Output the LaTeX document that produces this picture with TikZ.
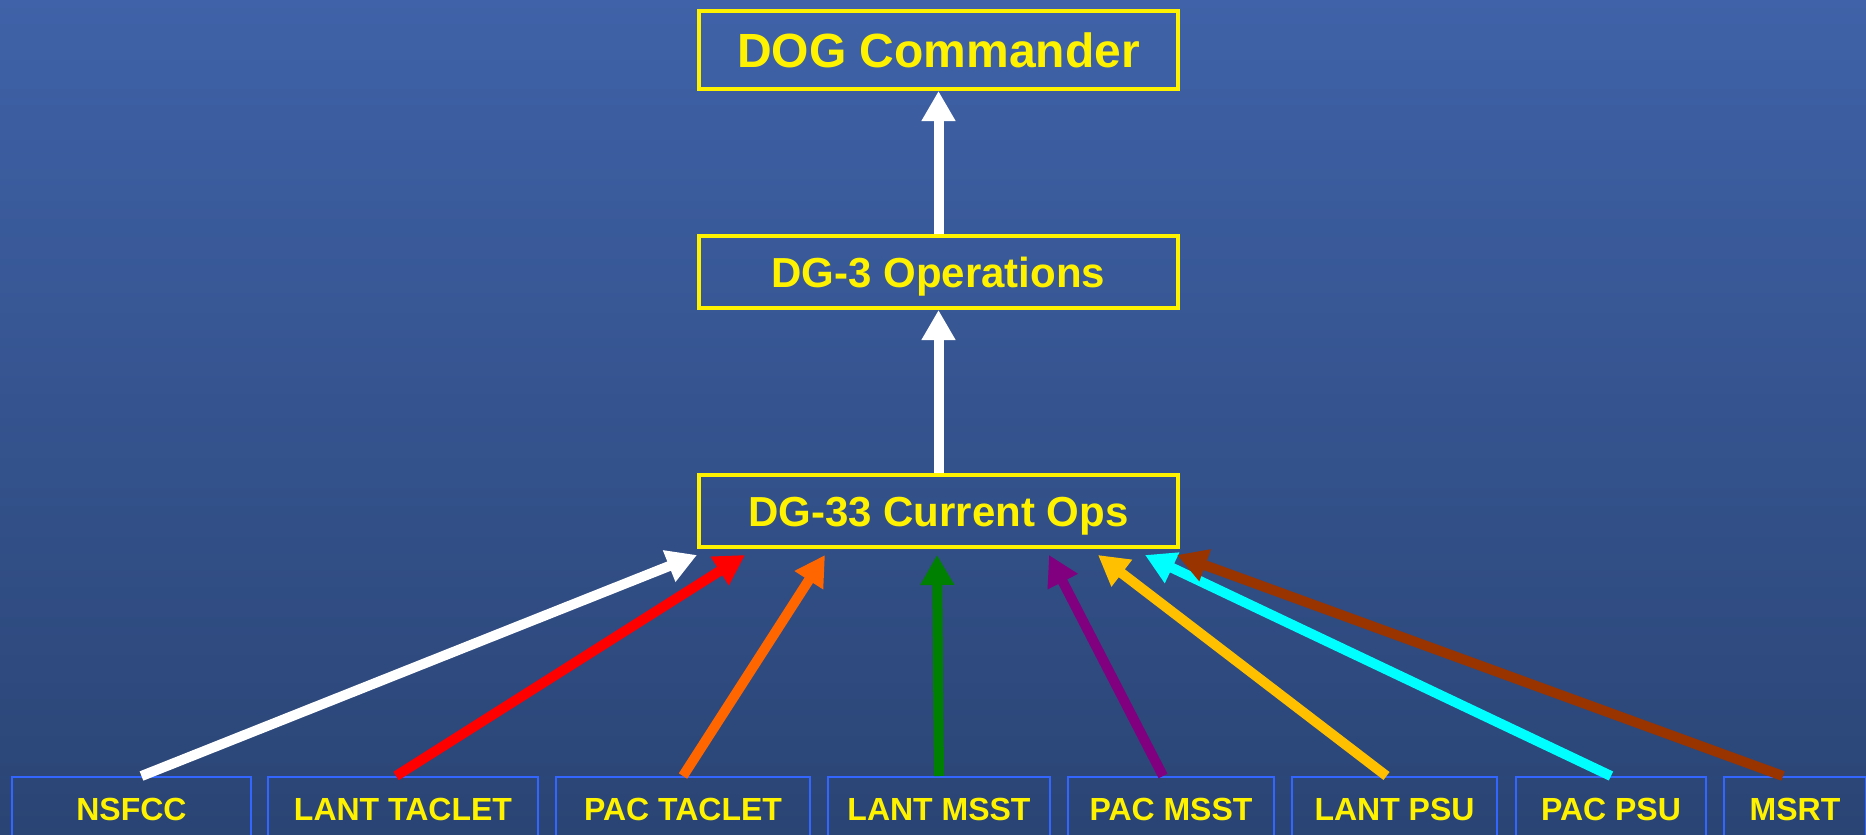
\documentclass[tikz,border=0pt]{standalone}
\usepackage{fontspec}
\setmainfont{Liberation Sans}
\usetikzlibrary{calc,arrows.meta}

\definecolor{bgtop}{HTML}{3F62A8}
\definecolor{bgbot}{HTML}{2A4474}
\definecolor{unitblue}{HTML}{3366FF}
\definecolor{taclet}{HTML}{FF6600}
\definecolor{msst}{HTML}{008000}
\definecolor{pacmsst}{HTML}{800080}
\definecolor{psu}{HTML}{FFC000}
\definecolor{pacpsu}{HTML}{00FFFF}
\definecolor{msrt}{HTML}{993300}

\begin{document}
\begin{tikzpicture}[x=1pt, y=-1pt,
	cmdbox/.style={draw=yellow, line width=4pt, minimum width=479, minimum height=72, inner sep=0pt,
		text=yellow, text height=30pt, text depth=0pt, font=\bfseries\fontsize{42}{50}\selectfont},
	unitbox/.style={draw=unitblue, line width=2pt, minimum height=64, inner sep=0pt,
		text=yellow, text height=23pt, text depth=0pt, font=\bfseries\fontsize{32}{38}\selectfont},
	feed/.style={line width=10pt, -{Triangle[width=32pt, length=30pt]}}]
	\shade [top color=bgtop, bottom color=bgbot] (0,0) rectangle (1866,835);
	\useasboundingbox (0,0) rectangle (1866,835);
	
	% Chain of command
	\node (dog) at (938.5,50) [cmdbox, minimum height=78, text height=34pt, font=\bfseries\fontsize{48}{56}\selectfont] {DOG Commander};
	\node (dg3) at (938.5,272) [cmdbox] {DG-3 Operations};
	\node (ops) at (938.5,511) [cmdbox] {DG-33 Current Ops};
	
	\draw [feed, white] (ops.north) -- (dg3.south);
	\draw [feed, white] (dg3.north) -- (dog.south);
	
	% Bottom units
	\foreach \id/\cx/\w/\txt in {nsfcc/131.5/239/NSFCC, lanttac/403/270/LANT TACLET, pactac/683/254/PAC TACLET,
		lantmsst/939/222/LANT MSST, pacmsst/1171/206/PAC MSST, lantpsu/1394.5/205/LANT PSU,
		pacpsu/1611/190/PAC PSU, msrt/1795/142/MSRT} {
		\node (\id) at (\cx,809) [unitbox, minimum width=\w] {\txt};
	}
	
	% Reports up to current ops
	\foreach \id/\dx/\tx/\col in {nsfcc/10/0/white, lanttac/-7/48/red, pactac/0/128/taclet,
		lantmsst/0/240/msst, pacmsst/-8/352/pacmsst, lantpsu/-8/401/psu,
		pacpsu/0/448/pacpsu, msrt/-12/480/msrt} {
		\draw [feed, \col] ($(\id.north)+(\dx,0)$) -- ($(ops.south west)+(\tx,6)$);
	}
\end{tikzpicture}
\end{document}
